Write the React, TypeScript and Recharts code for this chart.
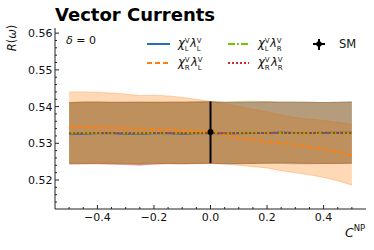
import { ComposedChart, Area, Line, Scatter, ErrorBar, XAxis, YAxis, Customized } from "recharts";

// C^NP grid
const cnp = [-0.5, -0.45, -0.4, -0.35, -0.3, -0.25, -0.2, -0.15, -0.1, -0.05, 0, 0.05, 0.1, 0.15, 0.2, 0.25, 0.3, 0.35, 0.4, 0.45, 0.5];

// chi_L lambda_L
const llMid = [0.5325, 0.5326, 0.5327, 0.5327, 0.5326, 0.5326, 0.5327, 0.5327, 0.5326, 0.5327, 0.5328, 0.5327, 0.5327, 0.5328, 0.5328, 0.5329, 0.5328, 0.5328, 0.5328, 0.5329, 0.5329];
const llLo = [0.5244, 0.5245, 0.5245, 0.5245, 0.5244, 0.5243, 0.5245, 0.5245, 0.5244, 0.5245, 0.5246, 0.5244, 0.5244, 0.5245, 0.5245, 0.5245, 0.5244, 0.5244, 0.5245, 0.5245, 0.5245];
const llHi = [0.5410, 0.5412, 0.5412, 0.5412, 0.5411, 0.5412, 0.5412, 0.5412, 0.5412, 0.5413, 0.5413, 0.5411, 0.5411, 0.5412, 0.5412, 0.5412, 0.5412, 0.5412, 0.5411, 0.5412, 0.5413];

// chi_R lambda_L
const rlMid = [0.5344, 0.5344, 0.5343, 0.5342, 0.5341, 0.5340, 0.5339, 0.5337, 0.5335, 0.5333, 0.5331, 0.5323, 0.5314, 0.5309, 0.5304, 0.5301, 0.5297, 0.5291, 0.5284, 0.5276, 0.5267];
const rlLo = [0.5244, 0.5244, 0.5245, 0.5244, 0.5244, 0.5243, 0.5244, 0.5245, 0.5245, 0.5244, 0.5245, 0.5244, 0.5240, 0.5236, 0.5233, 0.5225, 0.5220, 0.5214, 0.5207, 0.5198, 0.5186];
const rlHi = [0.5440, 0.5440, 0.5439, 0.5437, 0.5434, 0.5430, 0.5431, 0.5429, 0.5425, 0.5420, 0.5414, 0.5408, 0.5400, 0.5393, 0.5386, 0.5377, 0.5370, 0.5366, 0.5362, 0.5357, 0.5352];

// chi_L lambda_R
const lrMid = [0.5327, 0.5328, 0.5328, 0.5327, 0.5327, 0.5328, 0.5328, 0.5327, 0.5328, 0.5328, 0.5328, 0.5327, 0.5328, 0.5329, 0.5328, 0.5328, 0.5327, 0.5328, 0.5328, 0.5327, 0.5328];
const lrLo = [0.5246, 0.5246, 0.5246, 0.5246, 0.5245, 0.5245, 0.5246, 0.5246, 0.5245, 0.5246, 0.5246, 0.5245, 0.5245, 0.5246, 0.5247, 0.5246, 0.5246, 0.5246, 0.5246, 0.5246, 0.5246];
const lrHi = [0.5411, 0.5413, 0.5413, 0.5412, 0.5412, 0.5412, 0.5413, 0.5412, 0.5412, 0.5413, 0.5413, 0.5412, 0.5414, 0.5415, 0.5413, 0.5412, 0.5412, 0.5412, 0.5411, 0.5412, 0.5412];

// chi_R lambda_R
const rrMid = [0.5327, 0.5327, 0.5328, 0.5328, 0.5327, 0.5327, 0.5328, 0.5328, 0.5327, 0.5328, 0.5328, 0.5327, 0.5328, 0.5328, 0.5328, 0.5329, 0.5328, 0.5328, 0.5329, 0.5328, 0.5328];
const rrLo = [0.5244, 0.5244, 0.5244, 0.5243, 0.5242, 0.5240, 0.5243, 0.5244, 0.5244, 0.5245, 0.5245, 0.5244, 0.5245, 0.5245, 0.5246, 0.5247, 0.5246, 0.5245, 0.5245, 0.5245, 0.5246];
const rrHi = [0.5411, 0.5412, 0.5412, 0.5411, 0.5412, 0.5412, 0.5411, 0.5412, 0.5412, 0.5412, 0.5413, 0.5412, 0.5412, 0.5412, 0.5413, 0.5412, 0.5412, 0.5411, 0.5411, 0.5411, 0.5412];

// SM point
const smX = [0];
const smY = [0.5331];
const smLo = [0.5246];
const smHi = [0.5414];

const xDomain = [-0.55, 0.55];
const yDomain = [0.5121, 0.5614];
const xMajor = [-0.4, -0.2, 0, 0.2, 0.4];
const yMajor = [0.52, 0.53, 0.54, 0.55, 0.56];
const xMinor = [-0.5, -0.45, -0.35, -0.3, -0.25, -0.15, -0.1, -0.05, 0.05, 0.1, 0.15, 0.25, 0.3, 0.35, 0.45, 0.5];
const yMinor = [0.514, 0.516, 0.518, 0.522, 0.524, 0.526, 0.528, 0.532, 0.534, 0.536, 0.538, 0.542, 0.544, 0.546, 0.548, 0.552, 0.554, 0.556, 0.558];

const xTicks = [...xMajor, ...xMinor].sort((a, b) => a - b);
const yTicks = [...yMajor, ...yMinor].sort((a, b) => a - b);

const BLUE = "#2a6ebb";
const ORANGE = "#ff7f0e";
const GREEN = "#72c800";
const RED = "#d62728";
const FONT = "DejaVu Sans";

const data = cnp.map((x, i) => ({
  x,
  ll: llMid[i],
  llBand: [llLo[i], llHi[i]],
  rl: rlMid[i],
  rlBand: [rlLo[i], rlHi[i]],
  lr: lrMid[i],
  lrBand: [lrLo[i], lrHi[i]],
  rr: rrMid[i],
  rrBand: [rrLo[i], rrHi[i]],
}));

const smData = smX.map((x, i) => ({ x, y: smY[i], err: [smY[i] - smLo[i], smHi[i] - smY[i]] }));

const isMajor = (v: number, list: number[]) => list.some((m) => Math.abs(m - v) < 1e-9);
const fmtX = (v: number) => (v < 0 ? "\u2212" + Math.abs(v).toFixed(1) : v.toFixed(1));

function XTick(props: any) {
  const { x, y, payload, side } = props;
  const major = isMajor(payload.value, xMajor);
  const len = major ? 4 : 2;
  const dir = side === "top" ? 1 : -1;
  return (
    <g>
      <line x1={x} y1={y} x2={x} y2={y + dir * len} stroke="#222" strokeWidth={1} />
      {side === "bottom" && major && (
        <text x={x} y={y + 12} textAnchor="middle" fontSize={11} fontFamily={FONT} fill="#111">
          {fmtX(payload.value)}
        </text>
      )}
    </g>
  );
}

function YTick(props: any) {
  const { x, y, payload, side } = props;
  const major = isMajor(payload.value, yMajor);
  const len = major ? 4 : 2;
  const dir = side === "left" ? 1 : -1;
  return (
    <g>
      <line x1={x} y1={y} x2={x + dir * len} y2={y} stroke="#222" strokeWidth={1} />
      {side === "left" && major && (
        <text x={x - 2.5} y={y + 4} textAnchor="end" fontSize={11} fontFamily={FONT} fill="#111">
          {payload.value.toFixed(2)}
        </text>
      )}
    </g>
  );
}

// χ^V_a λ^V_b as one text element, sup/sub stacked with tspans
function PairLabel({ x, y, a, b }: { x: number; y: number; a: string; b: string }) {
  return (
    <text x={x} y={y} fontFamily={FONT} fill="#111" fontSize={11.5}>
      <tspan fontStyle="italic">χ</tspan>
      <tspan fontSize={7} dy={-4.5}>V</tspan>
      <tspan fontSize={7} dx={-4.8} dy={8.5}>{a}</tspan>
      <tspan fontStyle="italic" dx={1.2} dy={-4}>λ</tspan>
      <tspan fontSize={7} dy={-4.5}>V</tspan>
      <tspan fontSize={7} dx={-4.8} dy={8.5}>{b}</tspan>
    </text>
  );
}

function Overlay() {
  return (
    <g fontFamily={FONT}>
      <text x={55} y={21} fontSize={18} fontWeight="bold" fill="#000">Vector Currents</text>
      <text x={0} y={0} transform="translate(16,38) rotate(-90)" textAnchor="middle" fontSize={11.5} fill="#111">
        <tspan fontStyle="italic">R</tspan>(<tspan fontStyle="italic">ω</tspan>)
      </text>
      <text x={345} y={237} fontSize={12.5} fontStyle="italic" fill="#111">
        C<tspan fontSize={8.5} fontStyle="normal" dy={-6}>NP</tspan>
      </text>
      <text x={66} y={44} fontSize={11} fill="#111">
        <tspan fontStyle="italic">δ</tspan> = 0
      </text>

      <line x1={147} y1={44} x2={170} y2={44} stroke={BLUE} strokeWidth={2} />
      <PairLabel x={178} y={47} a="L" b="L" />
      <line x1={147} y1={63} x2={170} y2={63} stroke={ORANGE} strokeWidth={2} strokeDasharray="5 3" />
      <PairLabel x={178} y={66} a="R" b="L" />
      <line x1={228} y1={44} x2={249} y2={44} stroke={GREEN} strokeWidth={2} strokeDasharray="7 2 2 2" />
      <PairLabel x={258} y={47} a="L" b="R" />
      <line x1={228} y1={63} x2={249} y2={63} stroke={RED} strokeWidth={2} strokeDasharray="2 2" />
      <PairLabel x={258} y={66} a="R" b="R" />

      <line x1={313} y1={44} x2={325} y2={44} stroke="#000" strokeWidth={2} />
      <line x1={319} y1={39} x2={319} y2={50} stroke="#000" strokeWidth={2} />
      <circle cx={319} cy={44} r={2.8} fill="#000" />
      <text x={339} y={48} fontSize={11.5} fill="#111">SM</text>
    </g>
  );
}

const SmDot = (props: any) => <circle cx={props.cx} cy={props.cy} r={3} fill="#000" />;

export default function App() {
  return (
    <div style={{ position: "absolute", left: 0, top: 0, width: 374, height: 250, background: "#fff" }}>
      <ComposedChart width={374} height={250} data={data} margin={{ top: 28, right: 8, bottom: 0, left: 0 }}>
        <XAxis xAxisId="b" dataKey="x" type="number" domain={xDomain} ticks={xTicks} interval={0} allowDataOverflow
          height={41} tickSize={0} tickMargin={0} tickLine={false} axisLine={{ stroke: "#222" }}
          tick={(p: any) => <XTick {...p} side="bottom" />} />
        <XAxis xAxisId="t" orientation="top" dataKey="x" type="number" domain={xDomain} ticks={xTicks} interval={0} allowDataOverflow
          height={0} tickSize={0} tickMargin={0} tickLine={false} axisLine={{ stroke: "#222" }}
          tick={(p: any) => <XTick {...p} side="top" />} />
        <YAxis yAxisId="l" type="number" domain={yDomain} ticks={yTicks} interval={0} allowDataOverflow
          width={55} tickSize={0} tickMargin={0} tickLine={false} axisLine={{ stroke: "#222" }}
          tick={(p: any) => <YTick {...p} side="left" />} />
        <YAxis yAxisId="r" orientation="right" type="number" domain={yDomain} ticks={yTicks} interval={0} allowDataOverflow
          width={0} tickSize={0} tickMargin={0} tickLine={false} axisLine={{ stroke: "#222" }}
          tick={(p: any) => <YTick {...p} side="right" />} />

        <Area xAxisId="b" yAxisId="l" type="linear" dataKey="llBand" fill={BLUE} fillOpacity={0.3} stroke={BLUE} strokeOpacity={0.3} strokeWidth={1} isAnimationActive={false} />
        <Area xAxisId="b" yAxisId="l" type="linear" dataKey="rlBand" fill={ORANGE} fillOpacity={0.3} stroke={ORANGE} strokeOpacity={0.3} strokeWidth={1} isAnimationActive={false} />
        <Area xAxisId="b" yAxisId="l" type="linear" dataKey="lrBand" fill={GREEN} fillOpacity={0.3} stroke={GREEN} strokeOpacity={0.3} strokeWidth={1} isAnimationActive={false} />
        <Area xAxisId="b" yAxisId="l" type="linear" dataKey="rrBand" fill={RED} fillOpacity={0.3} stroke={RED} strokeOpacity={0.3} strokeWidth={1} isAnimationActive={false} />

        <Line xAxisId="b" yAxisId="l" type="linear" dataKey="ll" stroke={BLUE} strokeWidth={2} dot={false} isAnimationActive={false} />
        <Line xAxisId="b" yAxisId="l" type="linear" dataKey="rl" stroke={ORANGE} strokeWidth={2} strokeDasharray="5 3" dot={false} isAnimationActive={false} />
        <Line xAxisId="b" yAxisId="l" type="linear" dataKey="lr" stroke={GREEN} strokeWidth={2} strokeDasharray="7 2 2 2" dot={false} isAnimationActive={false} />
        <Line xAxisId="b" yAxisId="l" type="linear" dataKey="rr" stroke={RED} strokeWidth={2} strokeDasharray="2 2" dot={false} isAnimationActive={false} />

        <Scatter xAxisId="b" yAxisId="l" data={smData} dataKey="y" shape={SmDot} isAnimationActive={false}>
          <ErrorBar dataKey="err" direction="y" width={0} stroke="#000" strokeWidth={2} />
        </Scatter>

        <Customized component={Overlay} />
      </ComposedChart>
    </div>
  );
}
